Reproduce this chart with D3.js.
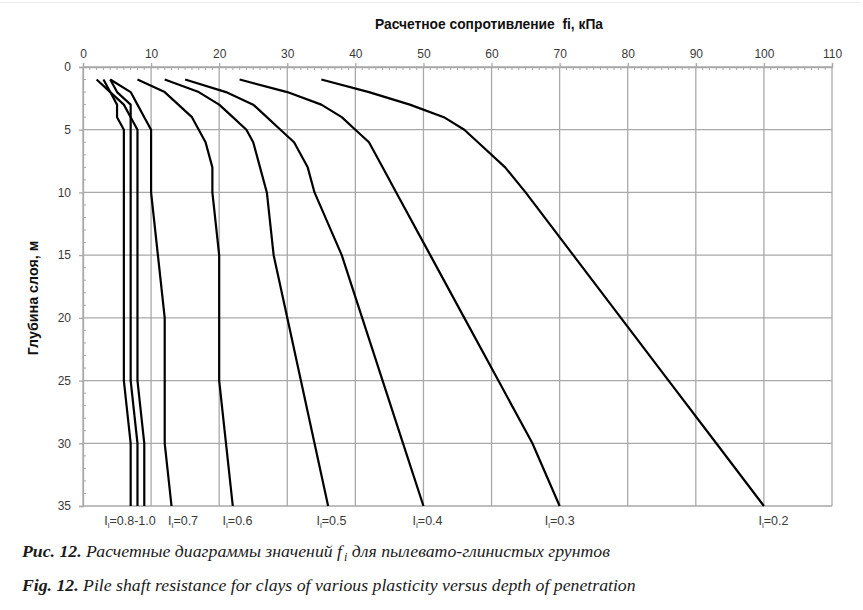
<!DOCTYPE html>
<html>
<head>
<meta charset="utf-8">
<script src="https://cdn.jsdelivr.net/npm/d3@7"></script>
<style>
  body { margin: 0; background: #fff; }
  svg { display: block; }
</style>
</head>
<body>
<svg id="chart" width="863" height="610"></svg>
<script>
// depth of layer, m
const depths = [1, 2, 3, 4, 5, 6, 8, 10, 15, 20, 25, 30, 35];

// design resistance fi, kPa, for each liquidity index
const fIL02 = [35, 42, 48, 53, 56, 58, 62, 65, 72, 79, 86, 93, 100];
const fIL03 = [23, 30, 35, 38, 40, 42, 44, 46, 51, 56, 61, 66, 70];
const fIL04 = [15, 21, 25, 27, 29, 31, 33, 34, 38, 41, 44, 47, 50];
const fIL05 = [12, 17, 20, 22, 24, 25, 26, 27, 28, 30, 32, 34, 36];
const fIL06 = [8, 12, 14, 16, 17, 18, 19, 19, 20, 20, 20, 21, 22];
const fIL07 = [4, 7, 8, 9, 10, 10, 10, 10, 11, 12, 12, 12, 13];
const fIL08 = [4, 5, 7, 7, 8, 8, 8, 8, 8, 8, 8, 9, 9];
const fIL09 = [3, 4, 6, 7, 7, 7, 7, 7, 7, 7, 7, 8, 8];
const fIL10 = [2, 4, 5, 5, 6, 6, 6, 6, 6, 6, 6, 7, 7];

const allSeries = [fIL02, fIL03, fIL04, fIL05, fIL06, fIL07, fIL08, fIL09, fIL10];

// curve labels and where they sit along the fi axis
const labelTexts = ["=0.8-1.0", "=0.7", "=0.6", "=0.5", "=0.4", "=0.3", "=0.2"];
const labelAt = [6.9, 14.7, 22.7, 36.5, 50.6, 70, 101.4];

const xTicks = d3.range(0, 111, 10);
const yTicks = d3.range(0, 36, 5);

const svg = d3.select("#chart");

const plotLeft = 83, plotTop = 67, plotRight = 832, plotBottom = 506;

const x = d3.scaleLinear().domain([0, 110]).range([plotLeft, plotRight]);
const y = d3.scaleLinear().domain([0, 35]).range([plotTop, plotBottom]);

const gridColor = "#a9a9a9";
const tickFont = "'Liberation Sans', Arial, sans-serif";

// faint chart-area edge at the very top
svg.append("line")
  .attr("x1", 0).attr("x2", 860)
  .attr("y1", 2.5).attr("y2", 2.5)
  .attr("stroke", "#ececec")
  .attr("stroke-width", 1);

// grid
svg.append("g")
  .selectAll("line")
  .data(xTicks)
  .enter()
  .append("line")
  .attr("x1", d => x(d)).attr("x2", d => x(d))
  .attr("y1", plotTop).attr("y2", plotBottom)
  .attr("stroke", gridColor)
  .attr("stroke-width", 1.3);

svg.append("g")
  .selectAll("line")
  .data(yTicks)
  .enter()
  .append("line")
  .attr("x1", plotLeft).attr("x2", plotRight)
  .attr("y1", d => y(d)).attr("y2", d => y(d))
  .attr("stroke", gridColor)
  .attr("stroke-width", 1.3);

// top axis: major ticks outward, minor inward
const xAxis = svg.append("g")
  .attr("transform", `translate(0,${plotTop})`)
  .call(d3.axisTop(x).tickValues(xTicks).tickSize(4).tickPadding(5));

svg.append("g")
  .selectAll("line")
  .data(d3.range(0, 111, 1).filter(d => d % 10 !== 0))
  .enter()
  .append("line")
  .attr("x1", d => x(d)).attr("x2", d => x(d))
  .attr("y1", plotTop).attr("y2", plotTop + 3)
  .attr("stroke", gridColor)
  .attr("stroke-width", 1);

// left axis
const yAxis = svg.append("g")
  .attr("transform", `translate(${plotLeft},0)`)
  .call(d3.axisLeft(y).tickValues(yTicks).tickSize(4).tickPadding(8));

svg.append("g")
  .selectAll("line")
  .data(d3.range(0, 36, 1).filter(d => d % 5 !== 0))
  .enter()
  .append("line")
  .attr("x1", plotLeft).attr("x2", plotLeft + 3)
  .attr("y1", d => y(d)).attr("y2", d => y(d))
  .attr("stroke", gridColor)
  .attr("stroke-width", 1);

[xAxis, yAxis].forEach(g => {
  g.select(".domain").attr("stroke", gridColor).attr("stroke-width", 1.3);
  g.selectAll(".tick line").attr("stroke", gridColor).attr("stroke-width", 1.3);
  g.selectAll(".tick text")
    .attr("fill", "#3a3a3a")
    .attr("font-family", tickFont)
    .attr("font-size", 12);
});

// curves
const line = d3.line()
  .x(d => x(d[0]))
  .y(d => y(d[1]));

svg.append("g")
  .selectAll("path")
  .data(allSeries)
  .enter()
  .append("path")
  .attr("d", vals => line(vals.map((v, i) => [v, depths[i]])))
  .attr("fill", "none")
  .attr("stroke", "#000")
  .attr("stroke-width", 2.2)
  .attr("stroke-linejoin", "round");

// curve labels I_l=...
const labels = svg.append("g")
  .attr("font-family", tickFont)
  .attr("font-size", 12.5)
  .attr("fill", "#3a3a3a");

labelTexts.forEach((t, i) => {
  const txt = labels.append("text")
    .attr("x", x(labelAt[i]))
    .attr("y", 525)
    .attr("text-anchor", "middle");
  txt.append("tspan").text("I");
  txt.append("tspan").attr("font-size", 8).attr("dy", 3).text("l");
  txt.append("tspan").attr("dy", -3).text(t);
});

// axis titles
svg.append("text")
  .attr("x", 489)
  .attr("y", 29)
  .attr("text-anchor", "middle")
  .attr("font-family", tickFont)
  .attr("font-weight", "bold")
  .attr("font-size", 13.8)
  .attr("fill", "#111")
  .attr("xml:space", "preserve")
  .text("Расчетное сопротивление  fi, кПа");

svg.append("text")
  .attr("transform", "translate(38,298) rotate(-90)")
  .attr("text-anchor", "middle")
  .attr("font-family", tickFont)
  .attr("font-weight", "bold")
  .attr("font-size", 14.3)
  .attr("fill", "#111")
  .text("Глубина слоя, м");

// figure captions
const capFont = "'Liberation Serif', 'Times New Roman', serif";

const cap1 = svg.append("text")
  .attr("x", 22).attr("y", 557)
  .attr("font-family", capFont)
  .attr("font-style", "italic")
  .attr("font-size", 18)
  .attr("fill", "#1a1a1a");
cap1.append("tspan").attr("font-weight", "bold").text("Рис. 12.");
cap1.append("tspan").text(" Расчетные диаграммы значений f");
cap1.append("tspan").attr("font-size", 12).attr("dx", 2).attr("dy", 4).text("i");
cap1.append("tspan").attr("dy", -4).text(" для пылевато-глинистых грунтов");

const cap2 = svg.append("text")
  .attr("x", 22).attr("y", 591)
  .attr("font-family", capFont)
  .attr("font-style", "italic")
  .attr("font-size", 18)
  .attr("fill", "#1a1a1a");
cap2.append("tspan").attr("font-weight", "bold").text("Fig. 12.");
cap2.append("tspan").text("  Pile shaft resistance for clays of various plasticity versus depth of penetration");

// fit captions to the width they take in the figure
[[cap1, 586], [cap2, 614]].forEach(([c, w]) => {
  const cur = c.node().getComputedTextLength();
  c.attr("font-size", 18 * w / cur);
});
</script>
</body>
</html>
